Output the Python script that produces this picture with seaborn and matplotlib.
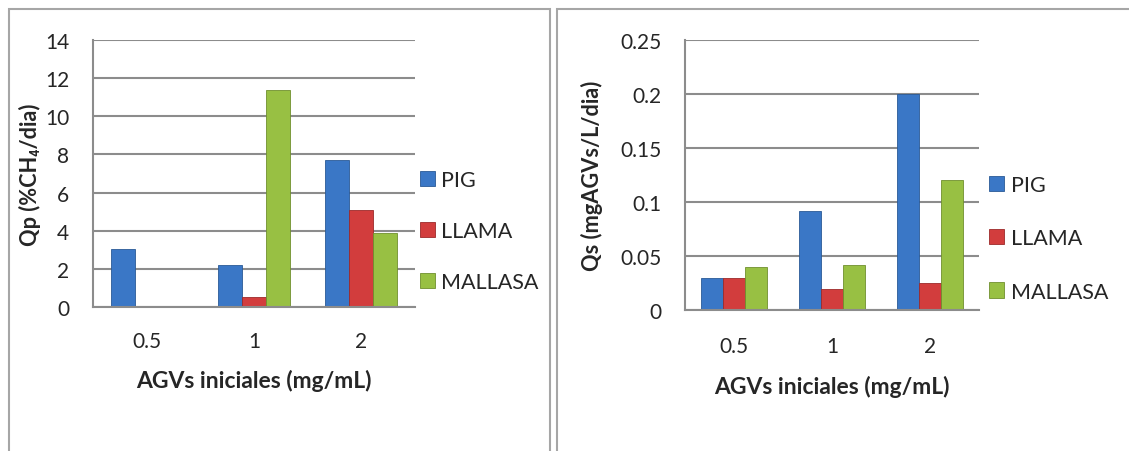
import pandas as pd
import seaborn as sns
import matplotlib.pyplot as plt
from matplotlib.patches import Rectangle

# data
agv = ['0.5', '1', '2']
series = ['PIG', 'LLAMA', 'MALLASA']
qp_pig = [3.05, 2.2, 7.7]
qp_llama = [0.0, 0.55, 5.1]
qp_mallasa = [0.0, 11.4, 3.9]
qs_pig = [0.03, 0.092, 0.2]
qs_llama = [0.03, 0.019, 0.025]
qs_mallasa = [0.04, 0.042, 0.12]
qp_ticks = [0, 2, 4, 6, 8, 10, 12, 14]
qs_ticks = [0, 0.05, 0.1, 0.15, 0.2, 0.25]
qs_ticklabels = ['0', '0.05', '0.1', '0.15', '0.2', '0.25']

colors = {'PIG': '#3a77c6', 'LLAMA': '#d23d3d', 'MALLASA': '#98c043'}
edges = {'PIG': '#2a5a96', 'LLAMA': '#9c2a2a', 'MALLASA': '#6f8f2e'}
grid_c = '#8c8c8c'


def long_df(pig, llama, mallasa):
    rows = []
    for s, vals in zip(series, [pig, llama, mallasa]):
        for a, v in zip(agv, vals):
            rows.append({'agv': a, 'serie': s, 'val': v})
    return pd.DataFrame(rows)


def draw(ax, df, ticks, ticklabels, ylabel, ylabel_x, leg_anchor, lspace, xpad):
    sns.barplot(data=df, x='agv', y='val', hue='serie', order=agv,
                hue_order=series, palette=colors, width=0.67,
                saturation=1, ax=ax, legend=False)
    # darker outline per series
    for cont, s in zip(ax.containers, series):
        for p in cont:
            p.set_edgecolor(edges[s])
            p.set_linewidth(0.6)
    ax.set_ylim(ticks[0], ticks[-1])
    ax.set_yticks(ticks)
    ax.set_yticklabels(ticklabels)
    ax.set_xlim(-0.5, 2.5)
    ax.grid(axis='y', color=grid_c, linewidth=1.5)
    ax.set_axisbelow(True)
    for side in ['top', 'right']:
        ax.spines[side].set_visible(False)
    for side in ['left', 'bottom']:
        ax.spines[side].set_color(grid_c)
        ax.spines[side].set_linewidth(1.5)
    ax.tick_params(axis='y', length=6, width=1.5, color=grid_c, pad=11,
                   labelsize=15)
    ax.tick_params(axis='x', length=0, pad=xpad, labelsize=15)
    ax.set_xlabel('AGVs iniciales (mg/mL)', fontsize=16.5, fontweight='bold',
                  labelpad=13)
    ax.set_ylabel(ylabel, fontsize=15.7, fontweight='bold')
    ax.yaxis.set_label_coords(ylabel_x, 0.5)
    handles = [Rectangle((0, 0), 1, 1, facecolor=colors[s],
                         edgecolor=edges[s], linewidth=0.6) for s in series]
    ax.legend(handles, series, loc='center left', bbox_to_anchor=leg_anchor,
              frameon=False, fontsize=15.5, handlelength=0.7, handleheight=0.7,
              handletextpad=0.3, labelspacing=lspace, borderpad=0,
              borderaxespad=0)


sns.set_theme(style='white')
plt.rcParams['font.family'] = ['Lato', 'DejaVu Sans']

W, H = 1129, 452
fig = plt.figure(figsize=(W / 100, H / 100), dpi=100)

ax1 = fig.add_axes([93 / W, 1 - 308 / H, 322 / W, 267 / H])
ax2 = fig.add_axes([685 / W, 1 - 311 / H, 294 / W, 270 / H])

draw(ax1, long_df(qp_pig, qp_llama, qp_mallasa), qp_ticks,
     [str(t) for t in qp_ticks], 'Qp (%CH\u2084/dia)', -0.16,
     (1.015, 0.285), 1.45, 17)
draw(ax2, long_df(qs_pig, qs_llama, qs_mallasa), qs_ticks,
     qs_ticklabels, 'Qs (mgAGVs/L/dia)', -0.28, (1.035, 0.266), 1.55, 19)

# panel frames
box_c = '#a6a6a6'
fig.add_artist(Rectangle((9 / W, -0.05), (550 - 9) / W, 1.05 - 10 / H,
                         transform=fig.transFigure, facecolor='none',
                         edgecolor=box_c, linewidth=1.5, clip_on=False))
fig.add_artist(Rectangle((557 / W, -0.05), (W + 20 - 557) / W, 1.05 - 10 / H,
                         transform=fig.transFigure, facecolor='none',
                         edgecolor=box_c, linewidth=1.5, clip_on=False))

fig.savefig('out.png', dpi=100)
